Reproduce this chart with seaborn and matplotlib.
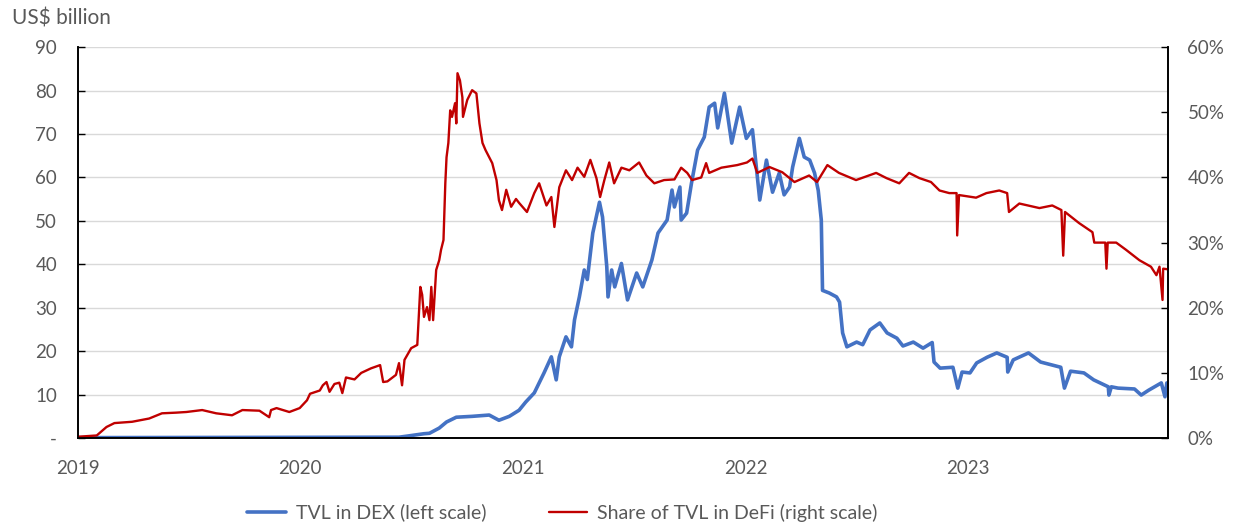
import pandas as pd
import seaborn as sns
import matplotlib.pyplot as plt
import matplotlib.dates as mdates
from matplotlib.ticker import FuncFormatter
from matplotlib.lines import Line2D

# TVL in DEX, US$ billion (left scale)
dex_dates = ["2019-01-01", "2020-06-11", "2020-06-27", "2020-07-22", "2020-07-31", "2020-08-16",
             "2020-08-28", "2020-09-13", "2020-10-09", "2020-11-06", "2020-11-22", "2020-12-09",
             "2020-12-25", "2021-01-05", "2021-01-19", "2021-02-04", "2021-02-16", "2021-02-24",
             "2021-03-01", "2021-03-12", "2021-03-21", "2021-03-26", "2021-04-03", "2021-04-11",
             "2021-04-16", "2021-04-25", "2021-05-06", "2021-05-11", "2021-05-18", "2021-05-20",
             "2021-05-26", "2021-05-31", "2021-06-11", "2021-06-21", "2021-07-06", "2021-07-16",
             "2021-07-31", "2021-08-10", "2021-08-25", "2021-09-02", "2021-09-06", "2021-09-15",
             "2021-09-17", "2021-09-26", "2021-10-04", "2021-10-14", "2021-10-25", "2021-11-02",
             "2021-11-11", "2021-11-16", "2021-11-27", "2021-12-09", "2021-12-22", "2022-01-02",
             "2022-01-12", "2022-01-24", "2022-02-04", "2022-02-14", "2022-02-25", "2022-03-05",
             "2022-03-14", "2022-03-19", "2022-03-30", "2022-04-07", "2022-04-16", "2022-04-24",
             "2022-04-30", "2022-05-05", "2022-05-07", "2022-05-18", "2022-05-30", "2022-06-04",
             "2022-06-09", "2022-06-16", "2022-07-02", "2022-07-12", "2022-07-24", "2022-08-09",
             "2022-08-21", "2022-09-06", "2022-09-16", "2022-10-03", "2022-10-19", "2022-11-03",
             "2022-11-06", "2022-11-16", "2022-12-07", "2022-12-15", "2022-12-22", "2023-01-04",
             "2023-01-15", "2023-02-01", "2023-02-17", "2023-03-06", "2023-03-07", "2023-03-16",
             "2023-04-10", "2023-04-30", "2023-06-02", "2023-06-08", "2023-06-18", "2023-07-10",
             "2023-07-26", "2023-08-19", "2023-08-20", "2023-08-24", "2023-09-04", "2023-10-01",
             "2023-10-12", "2023-10-24", "2023-11-14", "2023-11-20", "2023-11-23", "2023-11-25"]
dex_tvl = [0.1, 0.2, 0.5, 1.0, 1.1, 2.3,
           3.7, 4.8, 5.0, 5.3, 4.1, 5.0,
           6.4, 8.3, 10.4, 15.0, 18.7, 13.4,
           18.7, 23.3, 21.0, 27.2, 32.5, 38.7,
           36.5, 47.2, 54.3, 50.9, 39.4, 32.5,
           38.7, 34.8, 40.2, 31.8, 38.0, 34.8,
           41.0, 47.2, 50.2, 57.1, 53.2, 57.8,
           50.2, 51.8, 58.7, 66.3, 69.3, 76.2,
           77.1, 71.4, 79.4, 67.9, 76.2, 69.0,
           71.0, 54.8, 64.0, 56.6, 61.0, 56.0,
           57.8, 62.4, 69.0, 64.7, 64.0, 61.0,
           57.0, 50.2, 34.0, 33.4, 32.5, 31.3,
           24.2, 21.0, 22.1, 21.5, 24.9, 26.5,
           24.2, 23.0, 21.2, 22.1, 20.7, 22.0,
           17.5, 16.1, 16.3, 11.5, 15.2, 15.0,
           17.3, 18.6, 19.6, 18.6, 15.2, 18.0,
           19.6, 17.5, 16.3, 11.5, 15.4, 15.0,
           13.4, 11.8, 9.9, 11.8, 11.5, 11.3,
           9.9, 11.0, 12.7, 9.5, 12.7, 12.7]

# Share of TVL in DeFi, % (right scale)
share_dates = ["2019-01-01", "2019-02-01", "2019-02-17", "2019-03-02", "2019-03-31", "2019-04-28",
               "2019-05-19", "2019-06-11", "2019-06-28", "2019-07-24", "2019-08-16", "2019-09-11",
               "2019-09-28", "2019-10-26", "2019-11-11", "2019-11-14", "2019-11-23", "2019-12-14",
               "2019-12-31", "2020-01-12", "2020-01-17", "2020-02-02", "2020-02-07", "2020-02-13",
               "2020-02-18", "2020-02-26", "2020-03-05", "2020-03-10", "2020-03-16", "2020-03-30",
               "2020-04-10", "2020-04-26", "2020-05-11", "2020-05-16", "2020-05-23", "2020-06-06",
               "2020-06-11", "2020-06-16", "2020-06-20", "2020-07-01", "2020-07-11", "2020-07-16",
               "2020-07-19", "2020-07-22", "2020-07-27", "2020-07-31", "2020-08-03", "2020-08-06",
               "2020-08-11", "2020-08-16", "2020-08-19", "2020-08-23", "2020-08-26", "2020-08-28",
               "2020-08-31", "2020-09-03", "2020-09-06", "2020-09-11", "2020-09-13", "2020-09-15",
               "2020-09-19", "2020-09-23", "2020-09-24", "2020-10-01", "2020-10-09", "2020-10-16",
               "2020-10-21", "2020-10-26", "2020-10-31", "2020-11-06", "2020-11-11", "2020-11-18",
               "2020-11-22", "2020-11-27", "2020-12-04", "2020-12-12", "2020-12-20", "2020-12-25",
               "2021-01-07", "2021-01-19", "2021-01-27", "2021-02-08", "2021-02-16", "2021-02-21",
               "2021-03-01", "2021-03-12", "2021-03-22", "2021-03-31", "2021-04-11", "2021-04-21",
               "2021-05-01", "2021-05-07", "2021-05-14", "2021-05-22", "2021-05-30", "2021-06-11",
               "2021-06-24", "2021-07-10", "2021-07-22", "2021-08-04", "2021-08-20", "2021-09-06",
               "2021-09-17", "2021-09-27", "2021-10-05", "2021-10-20", "2021-10-28", "2021-11-02",
               "2021-11-22", "2021-12-18", "2022-01-03", "2022-01-12", "2022-01-20", "2022-02-09",
               "2022-03-02", "2022-03-22", "2022-04-15", "2022-04-28", "2022-05-15", "2022-06-03",
               "2022-07-01", "2022-08-03", "2022-08-20", "2022-09-10", "2022-09-26", "2022-10-13",
               "2022-11-01", "2022-11-15", "2022-12-01", "2022-12-13", "2022-12-14", "2022-12-17",
               "2023-01-14", "2023-01-31", "2023-02-21", "2023-03-06", "2023-03-09", "2023-03-26",
               "2023-04-28", "2023-05-19", "2023-06-03", "2023-06-06", "2023-06-09", "2023-07-02",
               "2023-07-24", "2023-07-27", "2023-08-14", "2023-08-16", "2023-08-18", "2023-09-01",
               "2023-09-17", "2023-10-09", "2023-10-28", "2023-11-06", "2023-11-11", "2023-11-16",
               "2023-11-17", "2023-11-25"]
share_pct = [0.2, 0.4, 1.7, 2.3, 2.5, 3.0,
             3.8, 3.9, 4.0, 4.3, 3.8, 3.5,
             4.3, 4.2, 3.2, 4.3, 4.6, 4.0,
             4.6, 5.8, 6.8, 7.3, 8.1, 8.6,
             7.1, 8.3, 8.5, 6.9, 9.3, 9.0,
             10.0, 10.7, 11.2, 8.6, 8.7, 9.7,
             11.5, 8.1, 12.0, 13.8, 14.3, 23.2,
             22.0, 18.6, 20.1, 18.1, 23.2, 18.1,
             25.8, 27.3, 28.9, 30.4, 39.1, 43.1,
             45.3, 50.3, 49.3, 51.4, 48.3, 56.0,
             54.9, 52.3, 49.3, 51.9, 53.4, 52.9,
             48.3, 45.3, 44.2, 43.1, 42.2, 39.6,
             36.5, 35.0, 38.1, 35.5, 36.7, 36.1,
             34.7, 37.6, 39.1, 35.7, 37.0, 32.4,
             38.5, 41.1, 39.6, 41.5, 40.1, 42.7,
             39.9, 37.0, 39.6, 42.3, 39.1, 41.5,
             41.1, 42.3, 40.3, 39.1, 39.6, 39.7,
             41.5, 40.7, 39.6, 40.0, 42.2, 40.7,
             41.5, 41.9, 42.3, 42.9, 40.7, 41.6,
             40.8, 39.3, 40.3, 39.3, 41.9, 40.7,
             39.6, 40.7, 39.9, 39.1, 40.7, 39.9,
             39.3, 38.0, 37.6, 37.6, 31.1, 37.3,
             36.9, 37.6, 38.0, 37.6, 34.7, 36.0,
             35.3, 35.7, 35.0, 28.0, 34.7, 33.0,
             31.6, 30.0, 30.0, 26.0, 30.0, 30.0,
             28.9, 27.3, 26.3, 25.0, 26.3, 21.2,
             26.0, 25.9]

years = [2019, 2020, 2021, 2022, 2023]
left_ticks = [0, 10, 20, 30, 40, 50, 60, 70, 80, 90]
right_ticks = [0, 10, 20, 30, 40, 50, 60]

dex = pd.DataFrame({"date": pd.to_datetime(dex_dates), "tvl": dex_tvl})
share = pd.DataFrame({"date": pd.to_datetime(share_dates), "share": share_pct})

sns.set_theme(style="white")
plt.rcParams["font.family"] = ["Lato", "DejaVu Sans"]

grey = "#595959"
blue = "#4472C4"
red = "#C00000"

fig = plt.figure(figsize=(12.36, 5.24), dpi=100)
ax = fig.add_axes([0.063, 0.164, 0.882, 0.746])
ax2 = ax.twinx()

sns.lineplot(data=dex, x="date", y="tvl", ax=ax, color=blue, linewidth=2.6)
sns.lineplot(data=share, x="date", y="share", ax=ax2, color=red, linewidth=1.7)

ax.set_xlim(pd.Timestamp("2019-01-01"), pd.Timestamp("2023-11-25"))
ax.set_ylim(0, 90)
ax2.set_ylim(0, 60)
ax.set_yticks(left_ticks)
ax2.set_yticks(right_ticks)
ax.yaxis.set_major_formatter(FuncFormatter(lambda v, p: "-" if v == 0 else f"{v:.0f}"))
ax2.yaxis.set_major_formatter(FuncFormatter(lambda v, p: f"{v:.0f}%"))
ax.set_xticks([pd.Timestamp(f"{y}-01-01") for y in years])
ax.xaxis.set_major_formatter(mdates.DateFormatter("%Y"))

ax.grid(axis="y", color="#d9d9d9", linewidth=1)
ax.set_axisbelow(True)
ax.set_xlabel("")
ax.set_ylabel("")
ax2.set_ylabel("")

for a in (ax, ax2):
    a.spines["top"].set_visible(False)
    for s in ("left", "right", "bottom"):
        a.spines[s].set_color("black")
        a.spines[s].set_linewidth(1.2)
ax.tick_params(axis="y", direction="in", length=5, width=1, color="black",
               labelsize=13.5, labelcolor=grey, pad=15)
ax.tick_params(axis="x", direction="in", length=5, width=1, color="black",
               labelsize=13.5, labelcolor=grey, pad=16)
ax2.tick_params(axis="y", direction="in", length=5, width=1, color="black",
                labelsize=13.5, labelcolor=grey, pad=14)
ax2.tick_params(axis="x", length=0)

fig.text(0.010, 0.965, "US$ billion", fontsize=15, color=grey, va="center", ha="left")

handles = [Line2D([0], [0], color=blue, linewidth=2.6),
           Line2D([0], [0], color=red, linewidth=1.7)]
fig.legend(handles, ["TVL in DEX (left scale)", "Share of TVL in DeFi (right scale)"],
           loc="center", bbox_to_anchor=(0.455, 0.022), ncol=2, frameon=False,
           fontsize=14, labelcolor=grey, handlelength=2.0, handletextpad=0.5,
           columnspacing=3.2)

fig.savefig("out.png", dpi=100)
